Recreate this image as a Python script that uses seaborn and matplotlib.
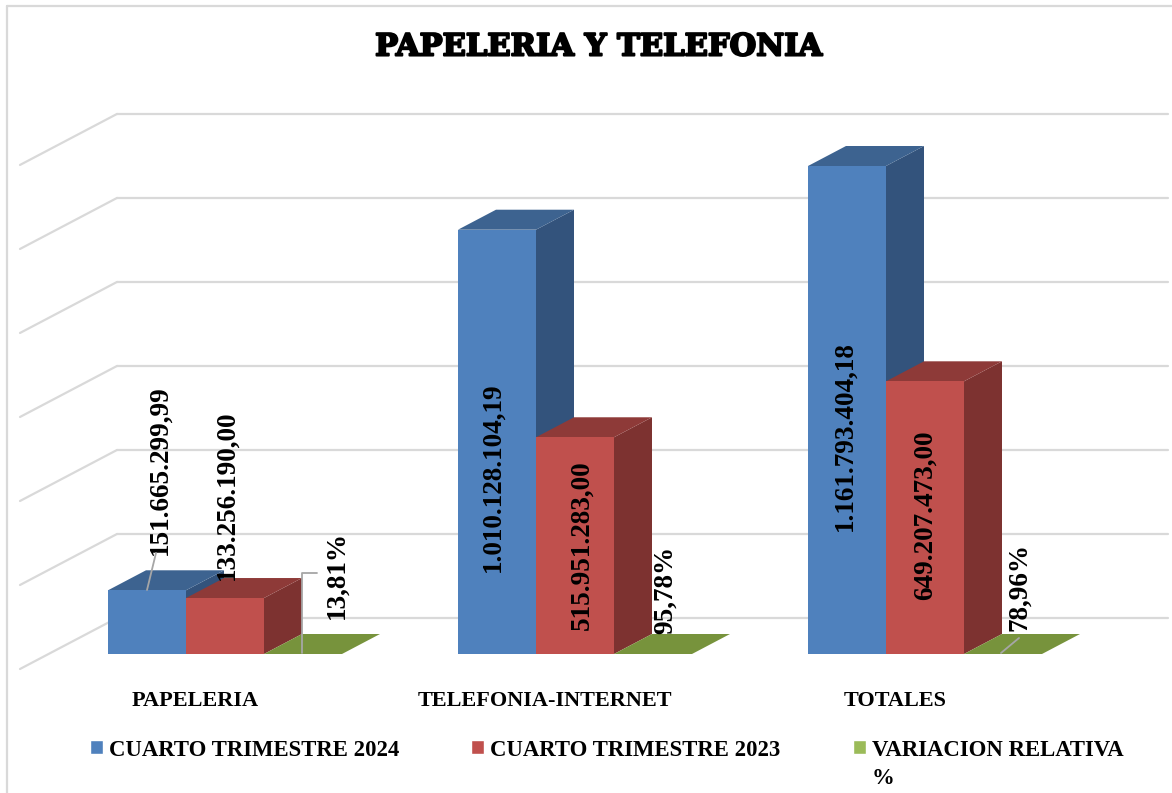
import matplotlib
matplotlib.use('Agg')
import matplotlib.pyplot as plt
import matplotlib.patheffects as pe
from matplotlib.lines import Line2D
from matplotlib.patches import Polygon
import pandas as pd
import seaborn as sns

categorias = ['PAPELERIA', 'TELEFONIA-INTERNET', 'TOTALES']
series = ['CUARTO TRIMESTRE 2024', 'CUARTO TRIMESTRE 2023', 'VARIACION RELATIVA\n%']
t4_2024 = [151665299.99, 1010128104.19, 1161793404.18]
t4_2023 = [133256190.00, 515951283.00, 649207473.00]
variacion = [0.1381, 0.9578, 0.7896]
rotulos_2024 = ['151.665.299,99', '1.010.128.104,19', '1.161.793.404,18']
rotulos_2023 = ['133.256.190,00', '515.951.283,00', '649.207.473,00']
rotulos_var = ['13,81%', '95,78%', '78,96%']
grid_values = [0, 200e6, 400e6, 600e6, 800e6, 1000e6, 1200e6]

# colours: front, top, side
front = ['#4F81BD', '#C0504D', '#9BBB59']
top = ['#3D6390', '#8E3A38', '#77933C']
side = ['#33537C', '#7D3230', '#77933C']
GRID = '#D9D9D9'

W, H = 1172, 793
PX_PER_CAT = 350.0
X0_PX = 225.0  # pixel of first category
BASE_PX = 654.0  # pixel of value 0 on the front plane
VAL_PER_PX = 1161793404.18 / 488.0
DX, DY = 38, 20  # bar depth in pixels

sns.set_theme(style='white')
plt.rcParams['font.family'] = ['Liberation Serif', 'DejaVu Serif']
plt.rcParams['font.weight'] = 'bold'

df = pd.DataFrame({
    'categoria': categorias * 3,
    'serie': [s for s in series for _ in categorias],
    'valor': t4_2024 + t4_2023 + variacion,
})

fig = plt.figure(figsize=(W / 100, H / 100), dpi=100, facecolor='white')
ax = fig.add_axes([0, (H - BASE_PX) / H, 1, BASE_PX / H])
sns.barplot(data=df, x='categoria', y='valor', hue='serie', palette=front,
            saturation=1, width=234 / PX_PER_CAT, gap=0, ax=ax)


def px_x(p):
    return (p - X0_PX) / PX_PER_CAT


def dy_val(p):
    return p * VAL_PER_PX


ax.set_xlim(px_x(0), px_x(W))
ax.set_ylim(0, BASE_PX * VAL_PER_PX)
for s in ax.spines.values():
    s.set_visible(False)
ax.set_ylabel('')
ax.set_xlabel('')
ax.set_yticks([])
ax.set_xticks([i - 30 / PX_PER_CAT for i in range(3)], categorias, fontsize=16, fontweight='bold', color='black')
ax.tick_params(axis='x', length=0, pad=27)

# wall and floor lines
for v in grid_values:
    yb = v + dy_val(36)
    ax.plot([px_x(117), px_x(1168)], [yb, yb], color=GRID, lw=1.6, zorder=1, clip_on=False)
    ax.plot([px_x(20), px_x(117)], [yb - dy_val(51), yb], color=GRID, lw=1.6, zorder=1, clip_on=False)

# depth faces on top of the seaborn bars
for i, cont in enumerate(ax.containers):
    for bar in cont:
        x0, w, h = bar.get_x(), bar.get_width(), bar.get_height()
        x1 = x0 + w
        ox, oy = DX / PX_PER_CAT, dy_val(DY)
        bar.set_zorder(5 + 3 * i)
        bar.set_edgecolor('none')
        ax.add_patch(Polygon([(x0, h), (x1, h), (x1 + ox, h + oy), (x0 + ox, h + oy)],
                             fc=top[i], ec='none', zorder=4 + 3 * i))
        ax.add_patch(Polygon([(x1, 0), (x1 + ox, oy), (x1 + ox, h + oy), (x1, h)],
                             fc=side[i], ec='none', zorder=3 + 3 * i))

# value labels, offsets in pixels from bar centre and base
lab_off = [[(13, 184), (-4, 177), (-2, 218)],
           [(2, 159), (7, 109), (0, 139)],
           [(34, 79), (12, 64), (17, 67)]]
rotulos = [rotulos_2024, rotulos_2023, rotulos_var]
for i, cont in enumerate(ax.containers):
    for j, bar in enumerate(cont):
        cx = bar.get_x() + bar.get_width() / 2
        ox, oy = lab_off[i][j]
        ax.text(cx + ox / PX_PER_CAT, dy_val(oy), rotulos[i][j], rotation=90, ha='center', va='center',
                fontsize=19.6, fontweight='bold', color='black', zorder=30)

# leader lines
LEAD = '#A6A6A6'
leaders = [[(147, 654 - 590), (156, 654 - 553)],
           [(302, 1), (302, 81), (317, 81)],
           [(1001, 1), (1019, 16)]]
for pts in leaders:
    ax.plot([px_x(p[0]) for p in pts], [dy_val(p[1]) for p in pts], color=LEAD, lw=1.3, zorder=31)

# legend
handles, labels = ax.get_legend_handles_labels()
leg = ax.legend(handles, labels, loc='upper left', bbox_to_anchor=(90 / W, (BASE_PX - 740) / BASE_PX), ncol=3,
                frameon=False, fontsize=16.4, handlelength=0.57, handleheight=0.57, handletextpad=0.26,
                columnspacing=3.17, borderaxespad=0, borderpad=0, labelspacing=0, labelcolor='black')
# long label wraps below, keep the swatches on the first line
leg._legend_handle_box.align = 'top'
for column in leg._legend_handle_box.get_children():
    for item in column.get_children():
        item.align = 'top'
for txt in leg.get_texts():
    txt.set_linespacing(1.45)

fig.suptitle('PAPELERIA Y TELEFONIA', x=598 / W, y=1 - 47 / H, ha='center', va='center',
             fontsize=22, fontweight='bold', family='DejaVu Serif', color='black',
             path_effects=[pe.withStroke(linewidth=1.5, foreground='black')])

# chart frame
fig.add_artist(Line2D([7 / W, 7 / W], [0, 1 - 6 / H], color=GRID, lw=1.6))
fig.add_artist(Line2D([7 / W, 1], [1 - 6 / H, 1 - 6 / H], color=GRID, lw=1.6))

fig.savefig('out.png', dpi=100)
